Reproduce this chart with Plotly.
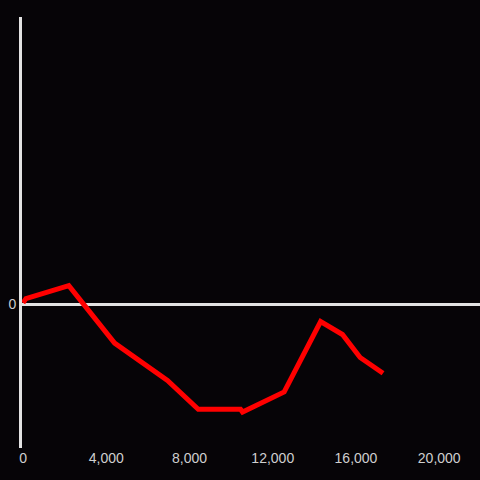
import plotly.graph_objects as go

# values
x_vals = [0, 140, 2200, 4400, 6940, 8420, 10450, 10550, 12550, 14300, 15350, 16200, 17300]
y_vals = [1, 4, 13, -27, -53, -73, -73, -75, -61, -12, -21, -37, -48]
x_ticks = [0, 4000, 8000, 12000, 16000, 20000]
x_tick_labels = ["0", "4,000", "8,000", "12,000", "16,000", "20,000"]

bg = "#060407"
axis_col = "#e2e2e2"
label_col = "#cfcfcf"

fig = go.Figure()
fig.add_trace(go.Scatter(
    x=x_vals, y=y_vals, mode="lines",
    line=dict(color="#ff0000", width=5),
    hoverinfo="skip", showlegend=False,
))

fig.update_layout(
    width=480, height=480,
    paper_bgcolor=bg, plot_bgcolor=bg,
    margin=dict(l=22, r=0, t=17, b=32),
    font=dict(family="Liberation Sans, Arial, sans-serif", size=14, color=label_col),
    xaxis=dict(
        range=[-50, 21960],
        tickvals=x_ticks, ticktext=x_tick_labels,
        showgrid=False, zeroline=False, showline=False,
        ticks="", ticklen=0,
    ),
    yaxis=dict(
        range=[-100, 200],
        tickvals=[0], ticktext=["0"],
        showgrid=False,
        zeroline=True, zerolinecolor=axis_col, zerolinewidth=3,
        showline=True, linecolor=axis_col, linewidth=3,
        ticks="", ticklen=0,
    ),
)

# drop the browser's default page margin so the chart fills the window
fig.write_html(
    "out.html",
    config={"displayModeBar": False},
    post_script="document.body.style.margin='0';document.body.style.background='%s';" % bg,
)
